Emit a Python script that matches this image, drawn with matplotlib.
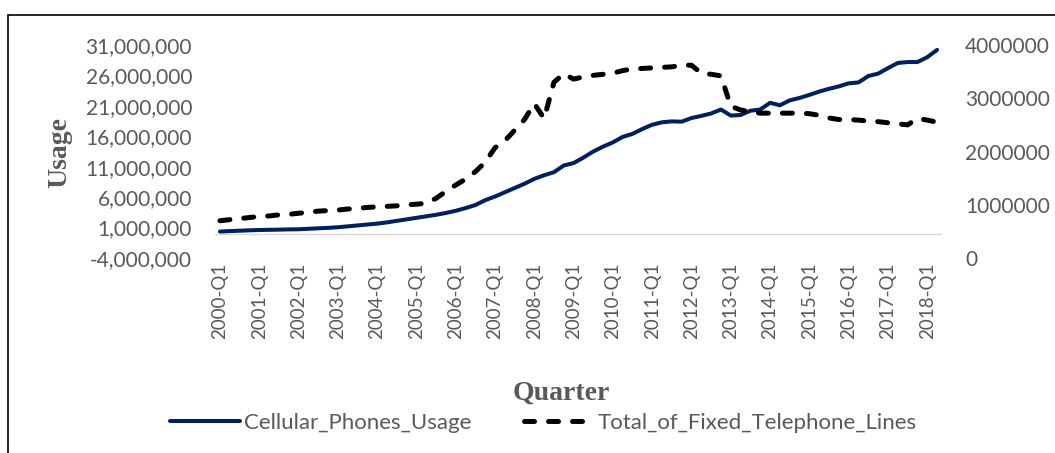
import matplotlib
matplotlib.use('Agg')
import matplotlib.pyplot as plt
from matplotlib.patches import Rectangle
from matplotlib.ticker import FuncFormatter

# ---------------- data ----------------
years = list(range(2000, 2019))
quarters = [f"{y}-Q{q}" for y in years for q in range(1, 5)][:74]

cellular_millions = [
    0.35, 0.42, 0.48, 0.55, 0.60, 0.63, 0.66, 0.70,   # 2000-2001
    0.72, 0.80, 0.88, 0.95, 1.05, 1.20, 1.35, 1.50,   # 2002-2003
    1.65, 1.85, 2.10, 2.35, 2.60, 2.85, 3.10, 3.40,   # 2004-2005
    3.75, 4.20, 4.70, 5.50, 6.10, 6.80, 7.50, 8.20,   # 2006-2007
    9.00, 9.60, 10.10, 11.20, 11.60, 12.50, 13.50, 14.30,  # 2008-2009
    15.00, 15.90, 16.40, 17.20, 17.90, 18.30, 18.45, 18.40,  # 2010-2011
    19.00, 19.35, 19.75, 20.40, 19.40, 19.50, 20.20, 20.40,  # 2012-2013
    21.50, 21.10, 21.90, 22.30, 22.80, 23.35, 23.80, 24.20,  # 2014-2015
    24.70, 24.85, 25.90, 26.30, 27.20, 28.05, 28.20, 28.20,  # 2016-2017
    29.00, 30.20,                                            # 2018
]

fixed_millions = [
    0.70, 0.72, 0.74, 0.76, 0.78, 0.79, 0.81, 0.82,
    0.84, 0.86, 0.88, 0.89, 0.90, 0.92, 0.93, 0.95,
    0.96, 0.97, 0.98, 1.00, 1.01, 1.03, 1.12, 1.25,
    1.37, 1.48, 1.62, 1.80, 2.07, 2.20, 2.40, 2.60,
    2.90, 2.62, 3.30, 3.46, 3.36, 3.40, 3.43, 3.45,
    3.47, 3.52, 3.55, 3.56, 3.57, 3.58, 3.59, 3.62,
    3.62, 3.47, 3.45, 3.42, 2.85, 2.78, 2.75, 2.72,
    2.72, 2.72, 2.72, 2.72, 2.71, 2.68, 2.63, 2.60,
    2.60, 2.59, 2.57, 2.56, 2.54, 2.52, 2.50, 2.62,
    2.59, 2.55,
]

cellular = [v * 1e6 for v in cellular_millions]
fixed = [v * 1e6 for v in fixed_millions]
x = list(range(len(quarters)))

left_ticks = [-4e6, 1e6, 6e6, 11e6, 16e6, 21e6, 26e6, 31e6]
right_ticks = [0, 1e6, 2e6, 3e6, 4e6]

# ---------------- style ----------------
W, H = 1055, 453
TXT = '#595959'
FONT = 'Lato'

fig = plt.figure(figsize=(W / 100, H / 100), dpi=100)
ax = fig.add_axes([215 / W, (H - 258) / H, 727 / W, 213 / H])
ax2 = ax.twinx()

ax.axhline(0, color='#D9D9D9', lw=1.0, zorder=0)
l1, = ax.plot(x, cellular, color='#002060', lw=2.9,
              solid_capstyle='round', solid_joinstyle='round',
              label='Cellular_Phones_Usage')
l2, = ax2.plot(x, fixed, color='black', lw=3.6, dashes=(2.0, 2.8),
               dash_capstyle='round', dash_joinstyle='round',
               label='Total_of_Fixed_Telephone_Lines')

ax.set_xlim(-0.5, len(quarters) - 0.5)
ax.set_ylim(-4e6, 31e6)
ax.set_yticks(left_ticks)
ax.yaxis.set_major_formatter(FuncFormatter(lambda v, p: f"{v:,.0f}"))
ax2.set_ylim(0, 4e6)
ax2.set_yticks(right_ticks)
ax2.yaxis.set_major_formatter(FuncFormatter(lambda v, p: f"{v:.0f}"))

ax.set_xticks(x[::4])
ax.set_xticklabels(quarters[::4], rotation=90)

for a in (ax, ax2):
    for s in a.spines.values():
        s.set_visible(False)
    a.tick_params(length=0, labelsize=15, labelcolor=TXT)
    for lab in a.get_xticklabels() + a.get_yticklabels():
        lab.set_fontfamily(FONT)
ax.tick_params(axis='y', pad=16.5)
ax2.tick_params(axis='y', pad=16.5)
ax.tick_params(axis='x', pad=3, labelsize=13.5)

fig.text(60 / W, 1 - 152 / H, 'Usage', rotation=90, family='Liberation Serif',
         weight='bold', size=20, color=TXT, ha='center', va='center')
fig.text(561 / W, 1 - 393 / H, 'Quarter', family='Liberation Serif',
         weight='bold', size=20, color=TXT, ha='center', va='center')

fig.legend(handles=[l1, l2], loc='center', bbox_to_anchor=(543.5 / W, 1 - 423 / H),
           ncol=2, frameon=False, prop={'family': FONT, 'size': 16},
           labelcolor=TXT, handlelength=3.15, handletextpad=0.15, columnspacing=2.4)

fig.add_artist(Rectangle((8 / W, -0.2), 1.5, 0.2 + (H - 15) / H,
                         transform=fig.transFigure, fill=False,
                         edgecolor='black', lw=1.2))

fig.savefig('out.png', dpi=100)
